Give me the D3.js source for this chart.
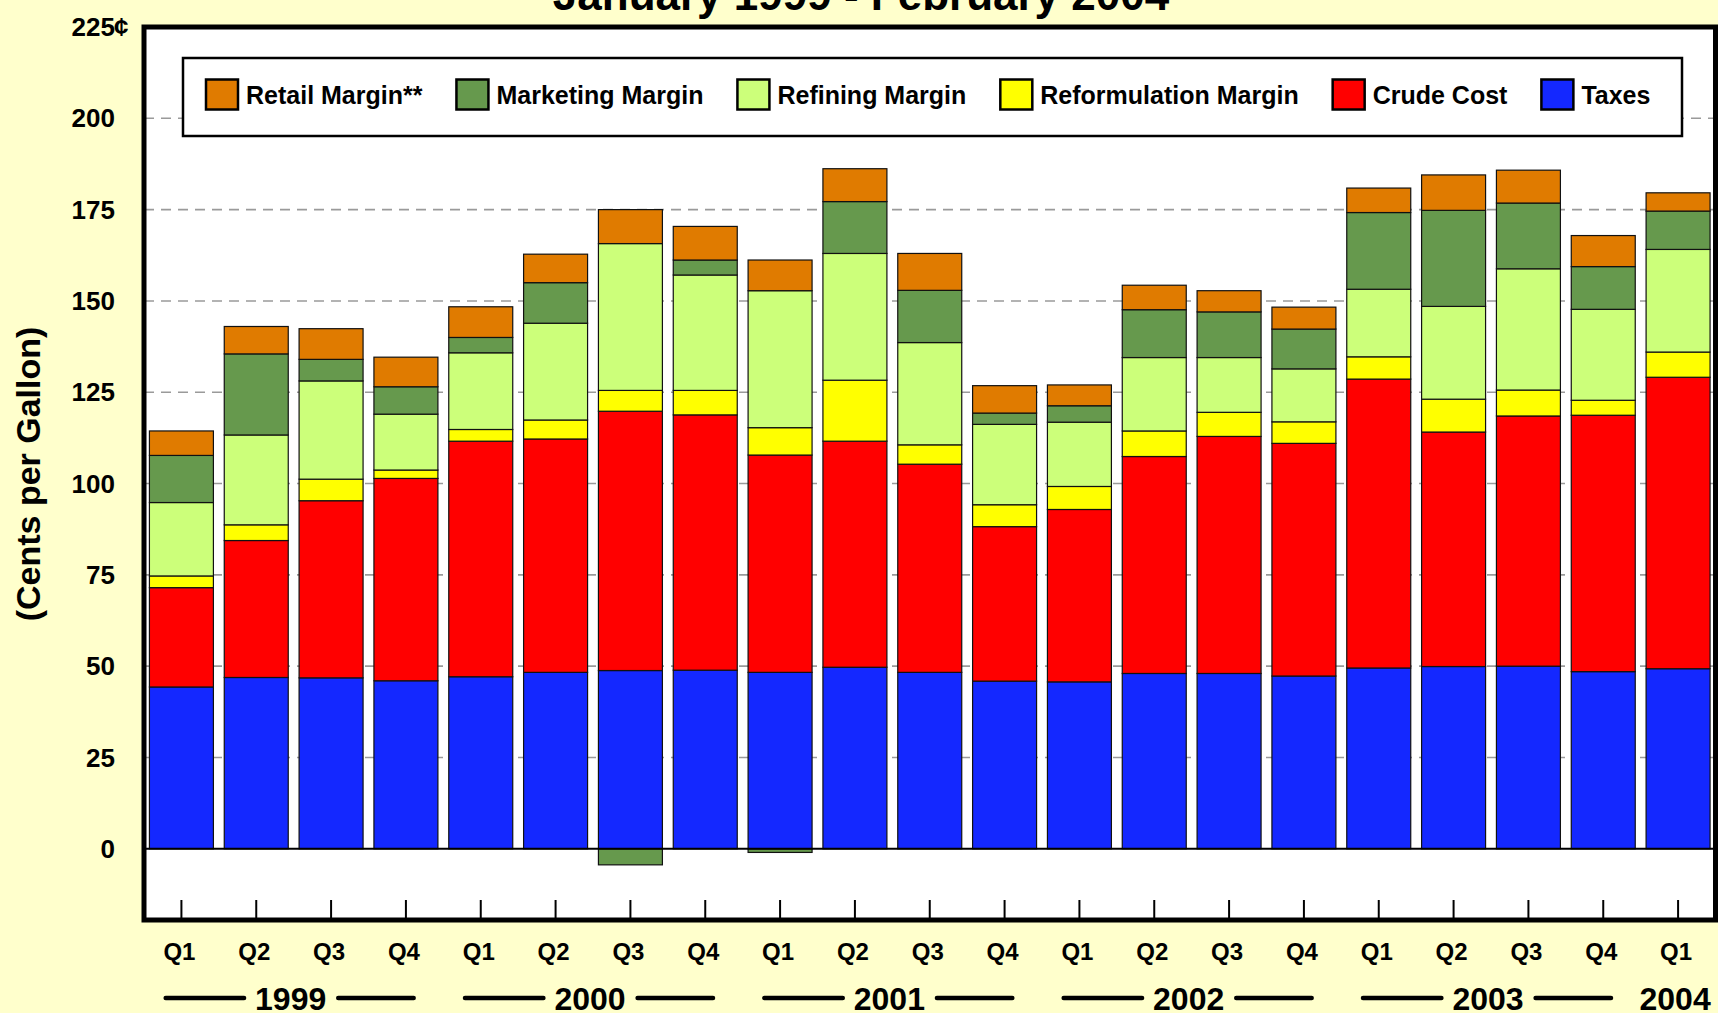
<!DOCTYPE html>
<html>
<head>
<meta charset="utf-8">
<script src="https://cdn.jsdelivr.net/npm/d3@7"></script>
<style>
  body { margin: 0; background: #ffffcc; }
  svg { display: block; }
  text { font-family: "Liberation Sans", Arial, Helvetica, sans-serif; font-weight: bold; fill: #000; }
</style>
</head>
<body>
<div id="chart"></div>
<script>
// quarter labels, one per bar
const quarters = ['Q1','Q2','Q3','Q4','Q1','Q2','Q3','Q4','Q1','Q2','Q3','Q4',
                  'Q1','Q2','Q3','Q4','Q1','Q2','Q3','Q4','Q1'];
const years = ['1999','2000','2001','2002','2003','2004'];

// cents per gallon
const taxes     = [44.3, 46.9, 46.8, 46.0, 47.1, 48.3, 48.8, 48.9, 48.3, 49.7, 48.3, 45.9, 45.7, 48.0, 48.0, 47.3, 49.5, 49.9, 50.0, 48.5, 49.3];
const crude     = [27.2, 37.5, 48.5, 55.4, 64.5, 63.9, 71.0, 69.9, 59.5, 61.9, 57.0, 42.3, 47.2, 59.4, 64.9, 63.7, 79.1, 64.2, 68.5, 70.2, 79.8];
const reform    = [3.2, 4.3, 5.9, 2.3, 3.2, 5.2, 5.7, 6.7, 7.5, 16.7, 5.3, 6.0, 6.3, 7.0, 6.6, 5.9, 6.1, 9.0, 7.1, 4.1, 6.9];
const refining  = [20.1, 24.6, 26.9, 15.3, 21.0, 26.5, 40.2, 31.6, 37.5, 34.7, 28.0, 22.0, 17.6, 20.1, 15.0, 14.5, 18.5, 25.4, 33.2, 24.9, 28.1];
const marketing = [12.9, 22.2, 5.9, 7.5, 4.2, 11.1, -4.4, 4.1, -1.0, 14.2, 14.3, 3.1, 4.5, 13.1, 12.5, 10.9, 21.0, 26.3, 18.0, 11.7, 10.5];
const retail    = [6.7, 7.5, 8.4, 8.1, 8.4, 7.8, 9.3, 9.2, 8.4, 9.0, 10.1, 7.5, 5.7, 6.7, 5.8, 6.0, 6.7, 9.7, 9.0, 8.5, 5.0];

const yTicks = [0, 25, 50, 75, 100, 125, 150, 175, 200, 225];

// stacking order bottom -> top
const series = [
  {key: 'taxes',     name: 'Taxes',               color: '#1428ff', values: taxes},
  {key: 'crude',     name: 'Crude Cost',          color: '#ff0000', values: crude},
  {key: 'reform',    name: 'Reformulation Margin',color: '#ffff00', values: reform},
  {key: 'refining',  name: 'Refining Margin',     color: '#ccff7a', values: refining},
  {key: 'marketing', name: 'Marketing Margin',    color: '#66994d', values: marketing},
  {key: 'retail',    name: 'Retail Margin**',     color: '#e07b00', values: retail}
];
// legend reads top of stack first
const legendOrder = series.slice().reverse();

const W = 1718, H = 1013;
const plot = {left: 144, right: 1715.5, top: 27, bottom: 920};

const rows = quarters.map(function (q, i) {
  let r = {idx: i};
  series.forEach(function (s) { r[s.key] = s.values[i]; });
  return r;
});

const svg = d3.select('#chart').append('svg')
  .attr('width', W)
  .attr('height', H);

svg.append('rect').attr('width', W).attr('height', H).attr('fill', '#ffffcc');

const x = d3.scaleBand()
  .domain(d3.range(quarters.length))
  .range([plot.left, plot.right])
  .paddingInner(0.145)
  .paddingOuter(0.0725);

const y = d3.scaleLinear()
  .domain([-19.5, 225])
  .range([plot.bottom, plot.top]);

// title (mostly cut off at the top)
svg.append('text')
  .attr('x', 861)
  .attr('y', 10)
  .attr('text-anchor', 'middle')
  .style('font-size', '44px')
  .text('January 1999 - February 2004');

// plot background
svg.append('rect')
  .attr('x', plot.left).attr('y', plot.top)
  .attr('width', plot.right - plot.left)
  .attr('height', plot.bottom - plot.top)
  .attr('fill', '#fff');

// dashed gridlines
svg.append('g')
  .selectAll('line')
  .data(yTicks.filter(function (d) { return d > 0 && d < 225; }))
  .enter().append('line')
  .attr('x1', plot.left).attr('x2', plot.right)
  .attr('y1', function (d) { return y(d); })
  .attr('y2', function (d) { return y(d); })
  .attr('stroke', '#9a9a9a')
  .attr('stroke-width', 1.6)
  .attr('stroke-dasharray', '10,7');

// stacked bars
const stack = d3.stack()
  .keys(series.map(function (s) { return s.key; }))
  .offset(d3.stackOffsetDiverging);

const layers = stack(rows);

svg.append('g')
  .selectAll('g')
  .data(layers)
  .enter().append('g')
  .attr('fill', function (d, i) { return series[i].color; })
  .selectAll('rect')
  .data(function (d) { return d; })
  .enter().append('rect')
  .attr('x', function (d) { return x(d.data.idx); })
  .attr('width', x.bandwidth())
  .attr('y', function (d) { return y(Math.max(d[0], d[1])); })
  .attr('height', function (d) { return Math.abs(y(d[0]) - y(d[1])); })
  .attr('stroke', '#111')
  .attr('stroke-width', 1.2);

// zero line
svg.append('line')
  .attr('x1', plot.left).attr('x2', plot.right)
  .attr('y1', y(0)).attr('y2', y(0))
  .attr('stroke', '#000')
  .attr('stroke-width', 2);

// x tick marks
svg.append('g')
  .selectAll('line')
  .data(quarters)
  .enter().append('line')
  .attr('x1', function (d, i) { return x(i) + x.bandwidth() / 2; })
  .attr('x2', function (d, i) { return x(i) + x.bandwidth() / 2; })
  .attr('y1', plot.bottom - 20)
  .attr('y2', plot.bottom)
  .attr('stroke', '#000')
  .attr('stroke-width', 2);

// frame
svg.append('rect')
  .attr('x', plot.left).attr('y', plot.top)
  .attr('width', plot.right - plot.left)
  .attr('height', plot.bottom - plot.top)
  .attr('fill', 'none')
  .attr('stroke', '#000')
  .attr('stroke-width', 5);

// y tick labels
const yLab = svg.append('g');
yLab.selectAll('text')
  .data(yTicks)
  .enter().append('text')
  .attr('x', 115)
  .attr('y', function (d) { return y(d); })
  .attr('dy', '0.35em')
  .attr('text-anchor', 'end')
  .style('font-size', '26px')
  .text(function (d) { return d; });
yLab.append('text')
  .attr('x', 114)
  .attr('y', y(225))
  .attr('dy', '0.35em')
  .style('font-size', '26px')
  .text('\u00a2');

// y axis title
svg.append('text')
  .attr('transform', 'translate(28,474) rotate(-90)')
  .attr('text-anchor', 'middle')
  .attr('dy', '0.35em')
  .style('font-size', '34px')
  .text('(Cents per Gallon)');

// quarter labels
svg.append('g')
  .selectAll('text')
  .data(quarters)
  .enter().append('text')
  .attr('x', function (d, i) { return x(i) + x.bandwidth() / 2 - 2; })
  .attr('y', 952)
  .attr('dy', '0.35em')
  .attr('text-anchor', 'middle')
  .style('font-size', '24px')
  .text(function (d) { return d; });

// year labels with rules either side
const yearGroups = years.map(function (yr, k) {
  const idx = d3.range(quarters.length).filter(function (i) { return Math.floor(i / 4) === k; });
  const cx = d3.mean(idx, function (i) { return x(i) + x.bandwidth() / 2; });
  return {year: yr, cx: cx, full: idx.length === 4};
});

const yg = svg.append('g')
  .selectAll('g')
  .data(yearGroups)
  .enter().append('g')
  .attr('transform', function (d) { return 'translate(' + (d.cx - 3) + ',998)'; });

yg.append('text')
  .attr('text-anchor', 'middle')
  .attr('dy', '0.36em')
  .style('font-size', '32px')
  .text(function (d) { return d.year; });

yg.filter(function (d) { return d.full; })
  .each(function () {
    const g = d3.select(this);
    const half = g.select('text').node().getComputedTextLength() / 2;
    g.append('line')
      .attr('x1', -125).attr('x2', -half - 11)
      .attr('stroke', '#000').attr('stroke-width', 4.5).attr('stroke-linecap', 'round');
    g.append('line')
      .attr('x1', half + 12).attr('x2', 123)
      .attr('stroke', '#000').attr('stroke-width', 4.5).attr('stroke-linecap', 'round');
  });

// legend
const legend = svg.append('g');
legend.append('rect')
  .attr('x', 183).attr('y', 58)
  .attr('width', 1682 - 183).attr('height', 136 - 58)
  .attr('fill', '#fff')
  .attr('stroke', '#000')
  .attr('stroke-width', 2.5);

let cursor = 206;
legendOrder.forEach(function (s) {
  const item = legend.append('g').attr('transform', 'translate(' + cursor + ',95)');
  item.append('rect')
    .attr('x', 0).attr('y', -15.5)
    .attr('width', 32).attr('height', 30)
    .attr('fill', s.color)
    .attr('stroke', '#000')
    .attr('stroke-width', 2.5);
  const t = item.append('text')
    .attr('x', 40)
    .attr('dy', '0.35em')
    .style('font-size', '25px')
    .text(s.name);
  cursor += 40 + t.node().getComputedTextLength() + 34;
});
</script>
</body>
</html>
